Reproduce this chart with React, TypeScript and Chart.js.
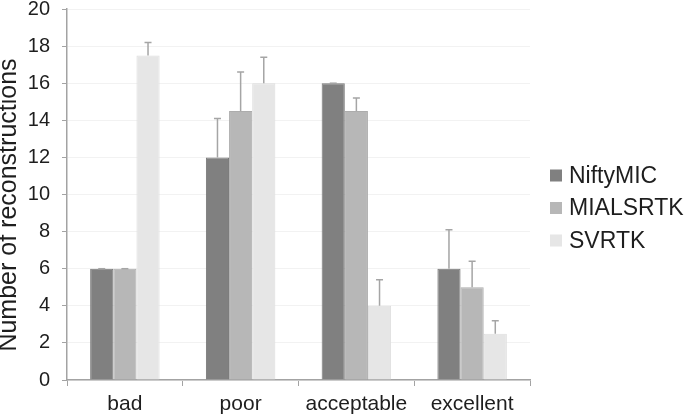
import React, { useEffect, useRef } from "react";
import { Chart, registerables } from "chart.js";

Chart.register(...registerables);

const categories = ["bad", "poor", "acceptable", "excellent"];
const seriesNames = ["NiftyMIC", "MIALSRTK", "SVRTK"];
const niftyMIC = [6, 12, 16, 6];
const mialsrtk = [6, 14.5, 14.5, 5];
const svrtk = [17.5, 16, 4, 2.5];
const niftyErr = [0, 2.1, 0, 2.1];
const mialErr = [0, 2.1, 0.7, 1.4];
const svrtkErr = [0.7, 1.4, 1.4, 0.7];
const yTicks = [0, 2, 4, 6, 8, 10, 12, 14, 16, 18, 20];
const yTitle = "Number of reconstructions";

const FONT = "'Liberation Sans', Arial, Helvetica, sans-serif";
const TEXT = "#1e1e1e";
const AXIS = "#a3a3a3";

const errorBarPlugin = {
  id: "errorBars",
  afterDatasetsDraw(chart: any) {
    const ctx = chart.ctx;
    const yScale = chart.scales.y;
    ctx.save();
    ctx.strokeStyle = "#a5a5a5";
    ctx.lineWidth = 1.5;
    chart.data.datasets.forEach((ds: any, i: number) => {
      const meta = chart.getDatasetMeta(i);
      meta.data.forEach((bar: any, j: number) => {
        const v = ds.data[j];
        const e = ds.errors[j];
        const yTop = yScale.getPixelForValue(v + e);
        const yBar = bar.y;
        ctx.beginPath();
        ctx.moveTo(bar.x, yBar);
        ctx.lineTo(bar.x, yTop);
        ctx.moveTo(bar.x - 3.5, yTop);
        ctx.lineTo(bar.x + 3.5, yTop);
        ctx.stroke();
      });
    });
    ctx.restore();
  },
};

const legendPlugin = {
  id: "customLegend",
  afterDraw(chart: any) {
    const ctx = chart.ctx;
    const area = chart.chartArea;
    const cx = area.right + 20;
    const cy = 208;
    ctx.save();
    ctx.font = `23px ${FONT}`;
    ctx.textBaseline = "middle";
    ctx.textAlign = "left";
    chart.data.datasets.forEach((ds: any, i: number) => {
      const y = cy + (i - 1) * 32.5;
      ctx.fillStyle = ds.backgroundColor;
      ctx.fillRect(cx, y - 6, 12, 12);
      ctx.fillStyle = TEXT;
      ctx.fillText(ds.label, cx + 19, y + 1);
    });
    // y axis title
    ctx.translate(9.5, 205);
    ctx.rotate(-Math.PI / 2);
    ctx.textAlign = "center";
    ctx.font = `25px ${FONT}`;
    ctx.fillText(yTitle, 0, 0);
    ctx.restore();
  },
};

export default function App() {
  const ref = useRef<HTMLCanvasElement | null>(null);
  useEffect(() => {
    if (!ref.current) return;
    const chart = new Chart(ref.current, {
      type: "bar",
      data: {
        labels: categories,
        datasets: [
          {
            label: seriesNames[0],
            data: niftyMIC,
            errors: niftyErr,
            backgroundColor: "#808080",
            borderColor: "#777777",
            borderWidth: 1,
          } as any,
          {
            label: seriesNames[1],
            data: mialsrtk,
            errors: mialErr,
            backgroundColor: "#b7b7b7",
            borderColor: "#acacac",
            borderWidth: 1,
          } as any,
          {
            label: seriesNames[2],
            data: svrtk,
            errors: svrtkErr,
            backgroundColor: "#e6e6e6",
            borderColor: "#dedede",
            borderWidth: 1,
          } as any,
        ],
      },
      options: {
        responsive: false,
        animation: false,
        devicePixelRatio: 1,
        layout: { padding: { left: 0, right: 155, top: 9, bottom: 0 } },
        datasets: { bar: { categoryPercentage: 0.6, barPercentage: 1 } },
        plugins: { legend: { display: false }, tooltip: { enabled: false } },
        scales: {
          x: {
            grid: {
              display: true,
              drawOnChartArea: false,
              drawTicks: true,
              tickLength: 6,
              tickColor: AXIS,
              offset: true,
            },
            border: { display: true, color: AXIS, width: 1.5 },
            ticks: { color: TEXT, font: { family: FONT, size: 21 }, padding: 6 },
            afterFit(scale: any) {
              scale.height = 39;
            },
          },
          y: {
            min: 0,
            max: 20,
            afterBuildTicks(scale: any) {
              scale.ticks = yTicks.map((v) => ({ value: v }));
            },
            grid: {
              color: "#f2f2f2",
              tickColor: AXIS,
              tickLength: 5,
              drawTicks: true,
            },
            border: { display: true, color: AXIS, width: 1.5 },
            ticks: { color: TEXT, font: { family: FONT, size: 20, lineHeight: 0.1 }, padding: 12 },
            title: { display: false },
            afterFit(scale: any) {
              scale.width = 67;
              scale.paddingTop = 0;
              scale.paddingBottom = 0;
            },
          },
        },
      },
      plugins: [errorBarPlugin, legendPlugin],
    } as any);
    return () => chart.destroy();
  }, []);
  return (
    <div style={{ position: "fixed", left: 0, top: 0, width: 685, height: 419, background: "#fff" }}>
      <canvas ref={ref} width={685} height={419} style={{ display: "block" }} />
    </div>
  );
}
